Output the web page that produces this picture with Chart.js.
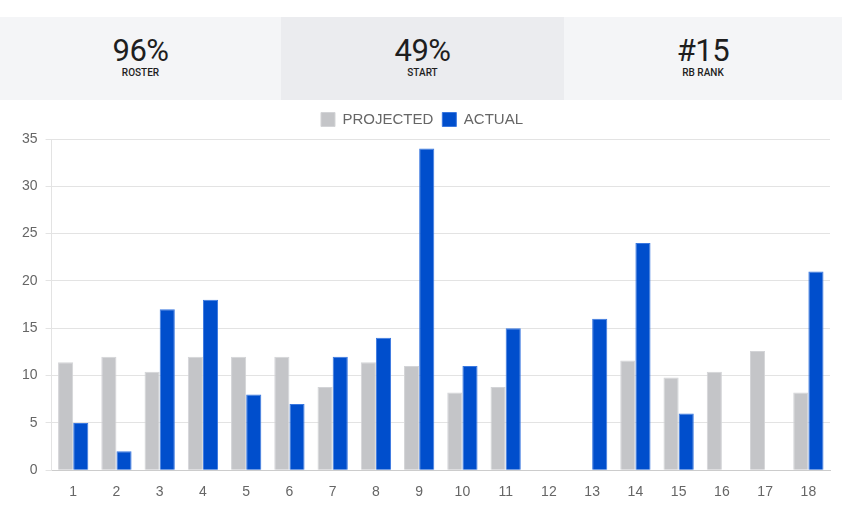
<!DOCTYPE html>
<html>
<head>
<meta charset="utf-8">
<script src="https://cdn.jsdelivr.net/npm/chart.js@4/dist/chart.umd.min.js"></script>
<style>
  body{margin:0;background:#fff;width:842px;height:518px;overflow:hidden;font-family:"Roboto",sans-serif;}
  .stats{position:absolute;top:17px;left:0;width:842px;height:83px;display:flex;}
  .stat{text-align:center;color:#1e1e1e;}
  .stat .num{font-size:31px;line-height:30px;margin-top:19px;letter-spacing:-0.5px;}
  .stat .lbl{font-size:10px;font-weight:500;margin-top:1px;}
  #wrap{position:absolute;top:100px;left:0;width:842px;height:418px;}
</style>
</head>
<body>
<div class="stats">
  <div class="stat" style="width:281px;background:#f4f5f7"><div class="num">96%</div><div class="lbl">ROSTER</div></div>
  <div class="stat" style="width:283px;background:#ebecef"><div class="num">49%</div><div class="lbl">START</div></div>
  <div class="stat" style="width:278px;background:#f4f5f7"><div class="num">#15</div><div class="lbl">RB RANK</div></div>
</div>
<div id="wrap"><canvas id="c"></canvas></div>
<script>
const weeks=['1','2','3','4','5','6','7','8','9','10','11','12','13','14','15','16','17','18'];
const projected=[11.4,12,10.4,12,12,12,8.8,11.4,11,8.2,8.8,null,null,11.6,9.8,10.4,12.6,8.2];
const actual=[5,2,17,18,8,7,12,14,34,11,15,null,16,24,6,null,null,21];

// a little more room under the legend
const legendGap={
    id:'legendGap',
    beforeInit(chart){
        const fit=chart.legend.fit;
        chart.legend.fit=function(){
            fit.bind(chart.legend)();
            this.height+=2;
        };
    }
};

const canvas=document.getElementById('c');
canvas.width=842;//fixed size
canvas.height=418;
new Chart(canvas.getContext('2d'),{
    type:'bar',
    data:{
        labels:weeks,
        datasets:[
            {label:'PROJECTED',data:projected,backgroundColor:'#c4c5c8',borderColor:'#d3d4d7',borderWidth:1},
            {label:'ACTUAL',data:actual,backgroundColor:'#004ecc',borderColor:'#3a78e0',borderWidth:1}
        ]
    },
    options:{
        responsive:false,
        animation:false,
        layout:{padding:{left:14,right:12,top:3,bottom:11}},
        datasets:{bar:{barPercentage:1,categoryPercentage:0.7}},
        plugins:{
            legend:{
                labels:{boxWidth:14,boxHeight:14,color:'#666',font:{family:'Liberation Sans',size:15},padding:9}
            },
            tooltip:{enabled:false}
        },
        scales:{
            x:{
                grid:{display:false},
                border:{color:'#ccc'},
                ticks:{color:'#666',font:{family:'Liberation Sans',size:14},padding:6}
            },
            y:{
                min:0,max:35,
                ticks:{stepSize:5,color:'#666',font:{family:'Liberation Sans',size:14},padding:8},
                grid:{color:'#e3e3e3',drawTicks:true,tickLength:6},
                border:{color:'#e3e3e3'}
            }
        }
    },
    plugins:[legendGap]
});
</script>
</body>
</html>
